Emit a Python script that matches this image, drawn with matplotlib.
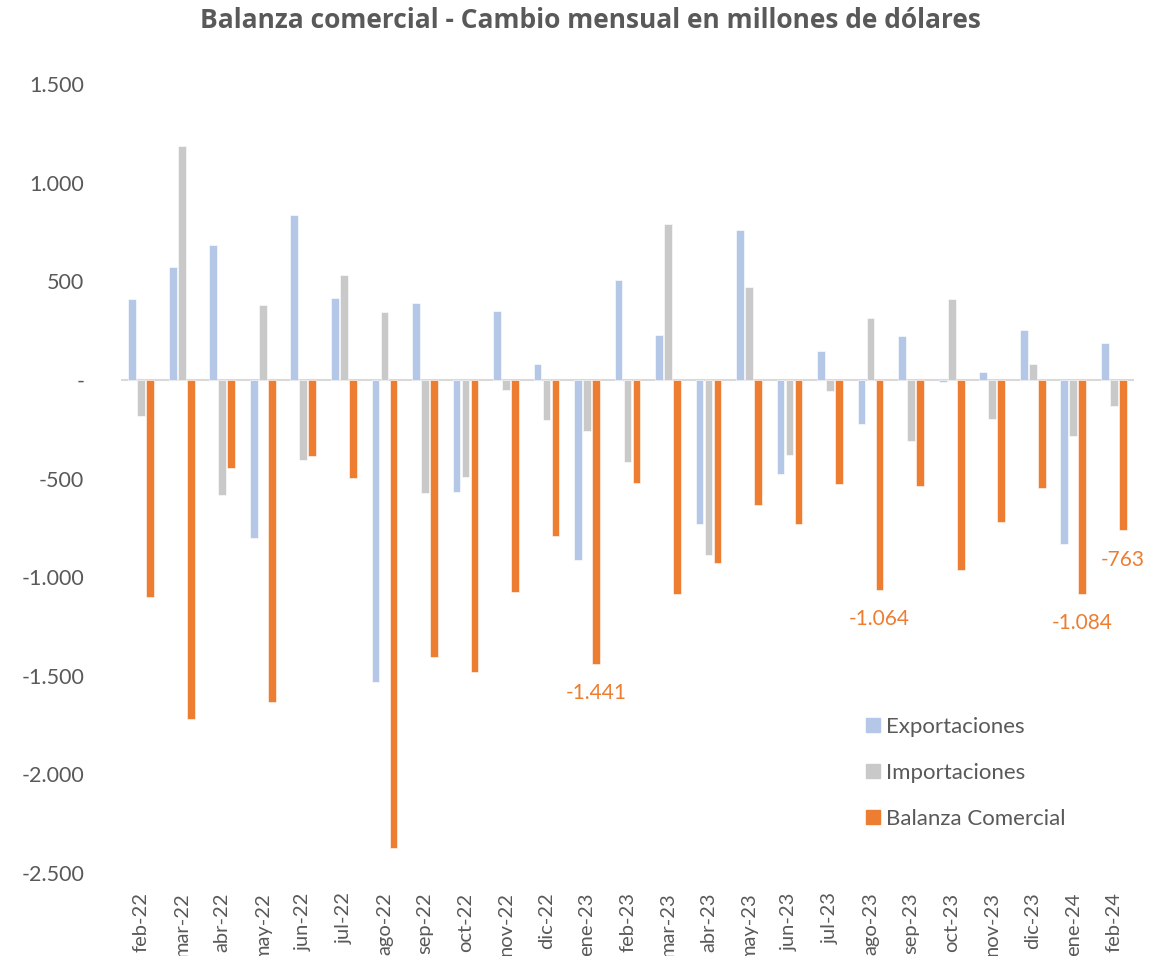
import matplotlib
matplotlib.use("Agg")
import matplotlib.pyplot as plt
from matplotlib.patches import Patch
from matplotlib.ticker import FuncFormatter, FixedLocator
import numpy as np

months = ["feb-22", "mar-22", "abr-22", "may-22", "jun-22", "jul-22", "ago-22",
          "sep-22", "oct-22", "nov-22", "dic-22", "ene-23", "feb-23", "mar-23",
          "abr-23", "may-23", "jun-23", "jul-23", "ago-23", "sep-23", "oct-23",
          "nov-23", "dic-23", "ene-24", "feb-24"]
exportaciones = [409, 573, 684, -801, 838, 417, -1531, 392, -568, 350, 80, -913,
                 507, 227, -730, 760, -478, 147, -223, 223, -13, 42, 254, -830, 189]
importaciones = [-183, 1187, -585, 380, -405, 531, 345, -571, -493, -52, -201, -259,
                 -417, 791, -887, 470, -379, -56, 314, -308, 411, -198, 78, -287, -132]
balanza = [-1099, -1717, -448, -1631, -384, -495, -2371, -1406, -1482, -1076, -794,
           -1441, -521, -1087, -926, -634, -733, -529, -1064, -536, -963, -723, -546,
           -1084, -763]
labeled_months = ["ene-23", "ago-23", "ene-24", "feb-24"]
yticks = [1500, 1000, 500, 0, -500, -1000, -1500, -2000, -2500]

C_EXP = "#b4c7e7"
C_IMP = "#c9c9c9"
C_BAL = "#ed7d31"
C_TXT = "#595959"

def fmt(v):
    if v == 0:
        return "-"
    return f"{v:,.0f}".replace(",", ".")

fig = plt.figure(figsize=(11.69, 9.56), dpi=100)
ax = fig.add_axes([121 / 1169, 1 - 873 / 956, (1134 - 121) / 1169, (873 - 84) / 956])

x = np.arange(len(months))
w = 0.19
off = 0.222
ax.bar(x - off, exportaciones, w, color=C_EXP, edgecolor="white", linewidth=0.4, label="Exportaciones")
ax.bar(x, importaciones, w, color=C_IMP, edgecolor="white", linewidth=0.4, label="Importaciones")
ax.bar(x + off, balanza, w, color=C_BAL, edgecolor="white", linewidth=0.4, label="Balanza Comercial")

ax.set_xlim(-0.5, len(months) - 0.5)
ax.set_ylim(-2500, 1500)
ax.axhline(0, color="#d9d9d9", linewidth=1.5, zorder=0.5)

for s in ax.spines.values():
    s.set_visible(False)

ax.yaxis.set_major_locator(FixedLocator(yticks))
ax.yaxis.set_major_formatter(FuncFormatter(lambda v, p: fmt(v)))
ax.tick_params(axis="y", length=0, pad=26.5, labelsize=15.5, labelcolor=C_TXT)
for t in ax.get_yticklabels():
    t.set_fontfamily("Lato")

ax.set_xticks(x)
ax.set_xticklabels(months, rotation=90, fontsize=14.5, color=C_TXT, family="Lato")
ax.tick_params(axis="x", length=0, pad=14)

for m in labeled_months:
    i = months.index(m)
    v = balanza[i]
    ax.annotate(fmt(v), (x[i] + off, v), xytext=(0, -21), textcoords="offset points",
                ha="center", va="center", color=C_BAL, fontsize=15, family="Lato")

handles = [Patch(color=C_EXP), Patch(color=C_IMP), Patch(color=C_BAL)]
fig.legend(handles, ["Exportaciones", "Importaciones", "Balanza Comercial"],
           loc="upper left", bbox_to_anchor=(846 / 1169, 1 - 697 / 956), frameon=False,
           handlelength=0.63, handleheight=0.63, handletextpad=0.28, labelspacing=1.17,
           prop={"family": "Lato", "size": 16}, labelcolor=C_TXT)

fig.text(590 / 1169, 1 - 20 / 956, "Balanza comercial - Cambio mensual en millones de dólares",
         ha="center", va="center", fontsize=19, fontweight="bold", color=C_TXT, family="Open Sans")

fig.savefig("out.png", dpi=100)
